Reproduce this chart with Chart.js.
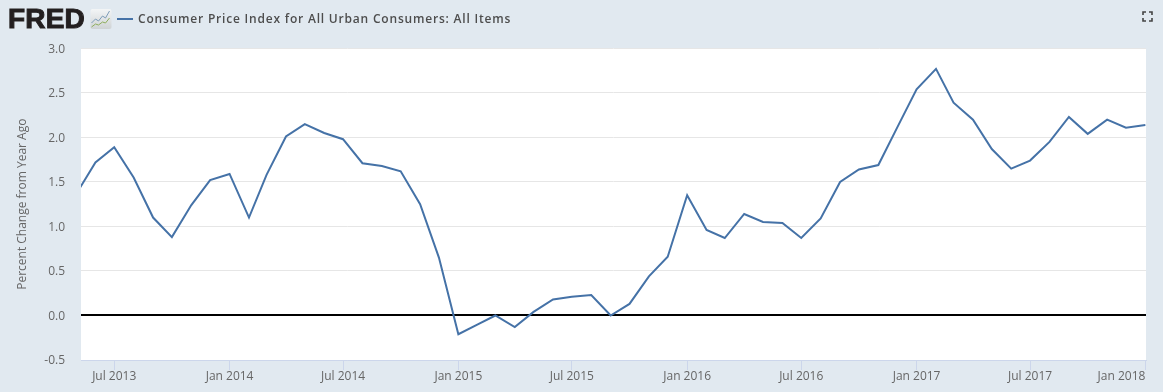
<!DOCTYPE html>
<html><head><meta charset="utf-8">
<script src="https://cdn.jsdelivr.net/npm/chart.js@4"></script>
<style>
html,body{margin:0;padding:0;background:#e1e9f0;width:1163px;height:392px;overflow:hidden}
#wrap{position:relative;width:1163px;height:392px}
canvas{position:absolute;left:0;top:0}
.logo{position:absolute;left:8px;top:2px;font:900 28px/34px "Liberation Sans",sans-serif;color:#231f20;letter-spacing:.2px;-webkit-text-stroke:1px #231f20}
.swatch{position:absolute;left:117px;top:18px;width:16px;height:2px;background:#4572a7}
.title{position:absolute;left:138px;top:10px;font:600 12px/17px "Open Sans",sans-serif;color:#4d4d4d;letter-spacing:.8px;white-space:nowrap}
svg{position:absolute}
</style></head><body>
<div id="wrap">
<canvas id="c" width="1163" height="392"></canvas>
<div class="logo">FRED</div>
<svg style="left:90px;top:9px" width="22" height="20" viewBox="0 0 21 20"><defs><linearGradient id="g" x1="0" y1="0" x2="0" y2="1"><stop offset="0" stop-color="#f3f5f6"/><stop offset="1" stop-color="#cfd3d5"/></linearGradient></defs><rect width="21" height="20" rx="2" fill="url(#g)"/><path d="M1 14l4-4 3 2 4-5 3 2 4-7" fill="none" stroke="#7d9cb8" stroke-width="1"/><path d="M1 18l4-3 3 1 4-3 3 1 4-5" fill="none" stroke="#8fae5d" stroke-width="1"/></svg>
<div class="swatch"></div>
<div class="title">Consumer Price Index for All Urban Consumers: All Items</div>
<svg style="left:1141px;top:10px" width="13" height="13" viewBox="0 0 13 13"><path d="M2 5V2h3M8 2h3v3M11 8v3H8M5 11H2V8" fill="none" stroke="#444" stroke-width="1.6"/></svg>
</div>
<script>
const months = ['2013-05','2013-06','2013-07','2013-08','2013-09','2013-10','2013-11','2013-12',
 '2014-01','2014-02','2014-03','2014-04','2014-05','2014-06','2014-07','2014-08','2014-09','2014-10','2014-11','2014-12',
 '2015-01','2015-02','2015-03','2015-04','2015-05','2015-06','2015-07','2015-08','2015-09','2015-10','2015-11','2015-12',
 '2016-01','2016-02','2016-03','2016-04','2016-05','2016-06','2016-07','2016-08','2016-09','2016-10','2016-11','2016-12',
 '2017-01','2017-02','2017-03','2017-04','2017-05','2017-06','2017-07','2017-08','2017-09','2017-10','2017-11','2017-12',
 '2018-01'];
const cpiChange = [1.36,1.72,1.89,1.55,1.10,0.88,1.24,1.52,
 1.59,1.10,1.58,2.01,2.15,2.05,1.98,1.71,1.68,1.62,1.25,0.65,
 -0.21,-0.10,0.00,-0.13,0.04,0.18,0.21,0.23,0.00,0.13,0.44,0.66,
 1.35,0.96,0.87,1.14,1.05,1.04,0.87,1.09,1.50,1.64,1.69,2.11,
 2.54,2.77,2.39,2.20,1.87,1.65,1.74,1.95,2.23,2.04,2.20,2.11,
 2.14];
const tickMonths = ['2013-07','2014-01','2014-07','2015-01','2015-07','2016-01','2016-07','2017-01','2017-07','2018-01'];
const tickLabels = ['Jul 2013','Jan 2014','Jul 2014','Jan 2015','Jul 2015','Jan 2016','Jul 2016','Jan 2017','Jul 2017','Jan 2018'];
const seriesName = 'Consumer Price Index for All Urban Consumers: All Items';
const yAxisTitle = 'Percent Change from Year Ago';

const ms = s => Date.parse(s + '-01T00:00:00Z');
const tickFont = {family:'"Open Sans",sans-serif', size:12};

const plotBackground = {
  id:'plotBackground',
  beforeDraw(chart){
    const a = chart.chartArea, c = chart.ctx;
    const top = Math.floor(a.top);
    c.save(); c.fillStyle = '#fff'; c.fillRect(a.left, top, a.width, a.bottom - top); c.restore();
    const items = chart.scales.x.getLabelItems(a);
    const last = items[items.length-1];
    if (last) last.options.textAlign = 'right';
    chart.scales.y.getLabelItems(a).forEach(it=>{ if(!it.shifted){ it.options.translation[1] += 1; it.shifted = true; } });
  }
};

new Chart(document.getElementById('c'), {
  type:'line',
  data:{datasets:[{
    label:seriesName,
    data:months.map((m,i)=>({x:ms(m), y:cpiChange[i]})),
    borderColor:'#4572a7', borderWidth:2, pointRadius:0, tension:0, fill:false
  }]},
  options:{
    responsive:false, animation:false,
    layout:{padding:{top:48.4,right:17,left:0,bottom:0}},
    plugins:{legend:{display:false}, title:{display:false}, tooltip:{enabled:false}},
    scales:{
      x:{
        type:'linear',
        min:Date.UTC(2013,4,9), max:Date.UTC(2018,0,2),
        afterBuildTicks(s){ s.ticks = tickMonths.map(m=>({value:ms(m)})); },
        afterFit(s){ s.height = 32; s.paddingLeft = 0; s.paddingRight = 0; },
        grid:{drawOnChartArea:false, drawTicks:true, tickLength:10, color:'#ccd6eb', lineWidth:1},
        border:{display:true, color:'#ccd6eb', width:1},
        ticks:{autoSkip:false, maxRotation:0, minRotation:0, padding:-1, color:'#666', font:tickFont,
          callback(v){ return tickLabels[tickMonths.findIndex(m=>ms(m)===v)]; }}
      },
      y:{
        min:-0.5, max:3,
        afterFit(s){ s.width = 81; },
        title:{display:true, text:yAxisTitle, color:'#666', font:tickFont, padding:{top:15,bottom:0}},
        grid:{
          drawTicks:false,
          color:c=>c.tick.value===0?'#000':(c.tick.value===-0.5?'#ccd6eb':'#e6e6e6'),
          lineWidth:c=>c.tick.value===0?2:1
        },
        border:{display:false},
        ticks:{stepSize:0.5, padding:16, color:'#666', font:tickFont, callback:v=>v.toFixed(1)}
      }
    }
  },
  plugins:[plotBackground]
});
</script>
</body></html>
